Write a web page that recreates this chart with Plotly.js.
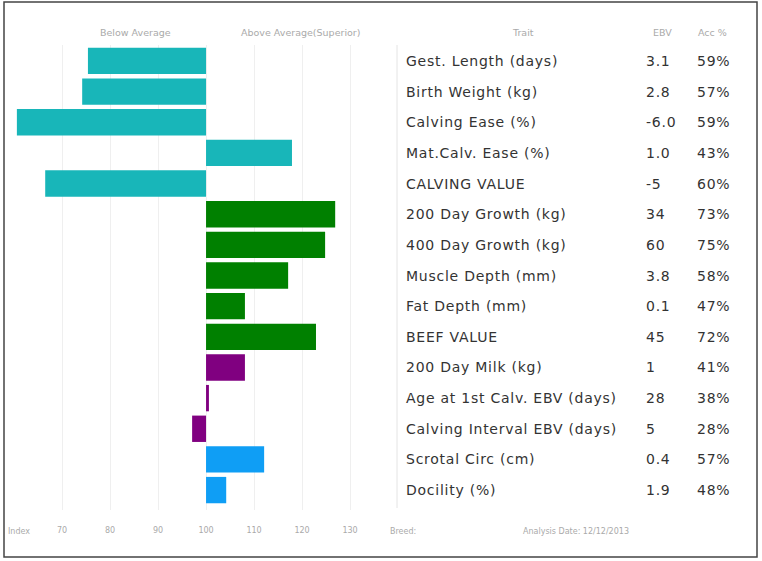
<!DOCTYPE html>
<html>
<head>
<meta charset="utf-8">
<script src="https://cdn.plot.ly/plotly-3.0.1.min.js"></script>
<style>
html,body{margin:0;padding:0;background:#fff;}
#chart{width:762px;height:561px;}
text[style*="font-size: 14px"]{letter-spacing:0.75px;}
</style>
</head>
<body>
<div id="chart"></div>
<script>
// ---- data ----
var traits = ["Gest. Length (days)", "Birth Weight (kg)", "Calving Ease (%)", "Mat.Calv. Ease (%)", "CALVING VALUE",
  "200 Day Growth (kg)", "400 Day Growth (kg)", "Muscle Depth (mm)", "Fat Depth (mm)", "BEEF VALUE",
  "200 Day Milk (kg)", "Age at 1st Calv. EBV (days)", "Calving Interval EBV (days)", "Scrotal Circ (cm)", "Docility (%)"];
var ebv = ["3.1", "2.8", "-6.0", "1.0", "-5", "34", "60", "3.8", "0.1", "45", "1", "28", "5", "0.4", "1.9"];
var acc = ["59%", "57%", "59%", "43%", "60%", "73%", "75%", "58%", "47%", "72%", "41%", "38%", "28%", "57%", "48%"];
var indexValues = [75.4, 74.2, 60.6, 117.9, 66.5, 126.9, 124.8, 117.1, 108.1, 122.9, 108.1, 100.6, 97.1, 112.1, 104.2];
var groups = ["calving", "calving", "calving", "calving", "calving", "growth", "growth", "growth", "growth", "growth",
  "maternal", "maternal", "maternal", "other", "other"];
var tickVals = [70, 80, 90, 100, 110, 120, 130];
var tickText = ["70", "80", "90", "100", "110", "120", "130"];
var baseIndex = 100;

// ---- styling ----
var groupColors = {calving: "#18b6b9", growth: "#008000", maternal: "#800080", other: "#0f9ef5"};
var font = "DejaVu Sans, sans-serif";
var W = 762, H = 561, L = 14, R = 376, T = 45, B = 510;
function px(x) { return (x - L) / (R - L); }
function py(y) { return (B - y) / (B - T); }

var trace = {
  type: "bar",
  orientation: "h",
  y: traits,
  x: indexValues.map(function (v) { return v - baseIndex; }),
  base: baseIndex,
  marker: {color: groups.map(function (g) { return groupColors[g]; }), line: {width: 0}},
  hoverinfo: "skip"
};

var annotations = [];
var tfont = {family: font, size: 14, color: "#333"};
traits.forEach(function (t, i) {
  annotations.push({xref: "paper", yref: "y", x: px(404), y: t, text: t, showarrow: false, xanchor: "left", font: tfont});
  annotations.push({xref: "paper", yref: "y", x: px(644), y: t, text: ebv[i], showarrow: false, xanchor: "left", font: tfont});
  annotations.push({xref: "paper", yref: "y", x: px(695), y: t, text: acc[i], showarrow: false, xanchor: "left", font: tfont});
});
var hfont = {family: font, size: 9.5, color: "#aaa"};
[["Below Average", 135], ["Above Average(Superior)", 300], ["Trait", 523], ["EBV", 662], ["Acc %", 712]].forEach(function (h) {
  annotations.push({xref: "paper", yref: "paper", x: px(h[1]), y: py(33), text: h[0], showarrow: false, xanchor: "center", yanchor: "middle", font: hfont});
});
[["Index", 19, "center"], ["Breed:", 388, "left"], ["Analysis Date: 12/12/2013", 521, "left"]].forEach(function (h) {
  annotations.push({xref: "paper", yref: "paper", x: px(h[1]), y: py(531), text: h[0], showarrow: false, xanchor: h[2], yanchor: "middle", font: {family: font, size: 8, color: "#aaa"}});
});

var layout = {
  width: W, height: H,
  margin: {l: L, r: W - R, t: T, b: H - B, pad: 0},
  paper_bgcolor: "#fff", plot_bgcolor: "#fff",
  showlegend: false,
  bargap: 0.14,
  xaxis: {
    range: [60, 135.4], tickvals: tickVals, ticktext: tickText,
    showgrid: true, gridcolor: "#efefef", gridwidth: 1, zeroline: false, showline: false,
    ticks: "", tickfont: {family: font, size: 8, color: "#aaa"}, ticklabelstandoff: 14
  },
  yaxis: {
    type: "category", range: [14.65, -0.52], showticklabels: false, showgrid: false, zeroline: false, showline: false, ticks: ""
  },
  annotations: annotations,
  shapes: [
    {type: "line", xref: "paper", yref: "paper", x0: px(397), x1: px(397), y0: py(45), y1: py(508), line: {color: "#e4e4e4", width: 1}},
    {type: "rect", xref: "paper", yref: "paper", x0: px(4), x1: px(757), y0: py(2), y1: py(557), line: {color: "#444", width: 1.5}}
  ]
};

Plotly.newPlot("chart", [trace], layout, {displayModeBar: false, staticPlot: true});
</script>
</body>
</html>
